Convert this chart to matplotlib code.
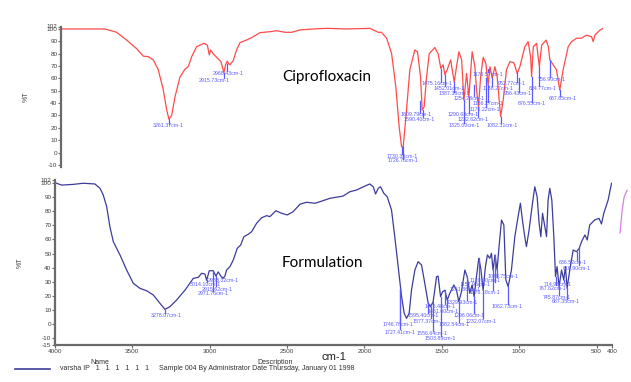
import matplotlib
matplotlib.use("Agg")
import matplotlib.pyplot as plt
from matplotlib.lines import Line2D

# spectrum 1 : Ciprofloxacin (red)
cipro_w = [4000, 3708, 3630, 3564, 3497, 3453, 3420, 3387, 3354, 3321, 3298, 3283, 3265, 3243, 3210,
           3177, 3155, 3132, 3099, 3050, 3028, 3015, 3006, 2989, 2966, 2938, 2918, 2907, 2896, 2887,
           2878, 2856, 2834, 2811, 2778, 2734, 2679, 2612, 2568, 2513, 2468, 2413, 2325, 2236, 2103,
           1948, 1893, 1871, 1837, 1804, 1776, 1754, 1738, 1727, 1705, 1683, 1650, 1632, 1612, 1601,
           1588, 1572, 1554, 1517, 1495, 1477, 1462, 1450, 1435, 1412, 1388, 1373, 1357, 1339, 1324,
           1306, 1291, 1269, 1251, 1240, 1227, 1213, 1196, 1178, 1163, 1151, 1136, 1118, 1103, 1080,
           1063, 1041, 1018, 992, 970, 952, 919, 897, 881, 874, 863, 841, 823, 807, 778,
           763, 753, 731, 709, 687, 665, 631, 609, 576, 543, 510, 476, 465, 454, 421, 400]
cipro_T = [100, 100, 97.3, 91, 84, 78, 77.6, 75, 67, 51, 34.5, 27, 30, 45, 61,
           67.4, 69.5, 77.6, 85.7, 88.4, 87, 79, 83, 80, 77, 73.6, 64.7, 71, 74, 72,
           71, 74.4, 83, 89, 90.5, 93, 97, 97.8, 98.6, 97.3, 97.3, 99.2, 100, 100.5, 100,
           100.5, 97.3, 97.3, 92.5, 80, 53, 21, 4.8, 4.8, 34.5, 67, 83, 81.6, 61.4, 34.5,
           37, 61, 80, 85, 80, 68, 71, 63, 67, 75, 57, 69.5, 81.6, 75, 42.5,
           64, 45, 81.6, 69.5, 50.6, 37, 61, 77, 72, 54.7, 69.5, 60, 69.5, 61.4, 29,
           42.5, 67, 73.6, 72.7, 64, 69.5, 85.7, 89.7, 77.6, 61.4, 85.7, 88.4, 69.5, 87, 91,
           85.7, 75, 71, 67, 50.6, 67, 85.7, 89.7, 92.5, 92.5, 95, 93.8, 89.7, 95, 99, 100.5]

# spectrum 2 : Formulation (navy)
form_w = [4000, 3957, 3882, 3817, 3742, 3709, 3688, 3666, 3645, 3623, 3580, 3537, 3494, 3451, 3408,
          3365, 3322, 3289, 3257, 3214, 3160, 3106, 3074, 3052, 3031, 3020, 3003, 2977, 2960, 2945,
          2928, 2913, 2902, 2891, 2869, 2848, 2822, 2800, 2779, 2751, 2729, 2697, 2665, 2632, 2611,
          2572, 2536, 2499, 2461, 2417, 2374, 2320, 2288, 2223, 2138, 2094, 2051, 1997, 1965, 1943,
          1928, 1911, 1896, 1875, 1853, 1825, 1804, 1782, 1760, 1743, 1728, 1711, 1696, 1674, 1653,
          1631, 1610, 1588, 1573, 1556, 1534, 1524, 1508, 1495, 1480, 1465, 1448, 1422, 1405, 1390,
          1373, 1351, 1336, 1319, 1304, 1291, 1276, 1261, 1248, 1233, 1218, 1205, 1190, 1179, 1169,
          1156, 1143, 1130, 1114, 1099, 1086, 1071, 1050, 1028, 1007, 992, 979, 964, 953, 936,
          914, 899, 884, 871, 860, 849, 834, 823, 813, 802, 789, 776, 765, 755, 742,
          726, 712, 701, 690, 673, 651, 629, 612, 597, 575, 560, 544, 512, 484, 468,
          453, 425, 403]
form_T = [100.3, 98.6, 99.1, 99.9, 99.4, 96.3, 91.5, 83.3, 69, 58.4, 49, 38.3, 28.9, 25.3, 23.6,
          20.6, 14.7, 10.4, 12.3, 17, 24, 32.4, 33.1, 36, 35.5, 31, 37.8, 37.8, 34, 37,
          34, 32.4, 34, 38.3, 40.7, 45.4, 53.7, 56, 62, 63.7, 65.5, 71.5, 75.4, 76.9, 76.2,
          80.4, 78.6, 77.4, 79.7, 85, 86.4, 85.7, 86.8, 89.2, 90.8, 93.9, 95.1, 97.9, 99.4, 97.4,
          92.3, 96.3, 97.4, 92.8, 90.4, 80.9, 62, 40.7, 19.4, 7.6, 4, 7.6, 24, 38.3, 44.2,
          41.9, 28.9, 14.7, 12.3, 15.8, 33.6, 34, 19.4, 22.9, 24, 17, 21.8, 27.7, 24, 15.8,
          22.9, 38.3, 33.6, 21.8, 27.7, 19.4, 33.6, 46.6, 39.5, 24, 40.7, 49, 46.6, 50.2, 38.3,
          49, 38.3, 54.9, 73.8, 70.3, 31.2, 26.5, 38.3, 62, 76.2, 85.7, 73.8, 62, 54.9, 66.7,
          85.7, 97.4, 90.4, 71.5, 62, 78.6, 69, 62, 88, 96.3, 88, 62, 33.6, 40.7, 26.5,
          38.3, 31.2, 40.7, 25.3, 38.3, 52.5, 51.3, 53.7, 58.4, 63.2, 59.6, 70.3, 73.8, 75, 71,
          78.6, 88, 99.9]

# stray third trace past the right end of the axis
extra_w = [348, 335, 322, 302]
extra_T = [64.6, 80, 90, 95]

# peak labels: text, peak w, peak T, text w, text T
cipro_peaks = [
    ("3261.37cm-1", 3283, 27, 3290, 21.5),
    ("2968.43cm-1", 2896, 72, 2891, 63.6),
    ("2915.73cm-1", 2918, 64.7, 2984, 58),
    ("1730.38cm-1", 1738, 4.8, 1736, -2.8),
    ("1726.76cm-1", 1727, 4.8, 1729, -6.8),
    ("1609.79cm-1", 1615, 42, 1643, 30.4),
    ("1590.40cm-1", 1598, 34.5, 1623, 26.4),
    ("1475.16cm-1", 1477, 68, 1503, 55.5),
    ("1452.01cm-1", 1450, 63, 1424, 51.5),
    ("1387.38cm-1", 1388, 57, 1391, 47.4),
    ("1325.00cm-1", 1324, 42.5, 1324, 22.3),
    ("1290.63cm-1", 1291, 45, 1331, 30.4),
    ("1254.28cm-1", 1258, 55, 1291, 43.4),
    ("1232.62cm-1", 1227, 37, 1264, 26.4),
    ("1176.57cm-1", 1163, 68, 1165, 62.8),
    ("1156.27cm-1", 1163, 54.7, 1165, 39.3),
    ("1176.22cm-1", 1180, 60, 1185, 34.5),
    ("1138.27cm-1", 1136, 60, 1098, 51.5),
    ("1082.31cm-1", 1080, 29, 1072, 22.3),
    ("952.77cm-1", 970, 64, 1005, 55.5),
    ("956.43cm-1", 960, 60, 965, 47.4),
    ("876.55cm-1", 874, 61.4, 872, 39.3),
    ("824.77cm-1", 823, 69.5, 800, 51.5),
    ("756.90cm-1", 753, 75, 740, 59.5),
    ("687.65cm-1", 687, 50.6, 667, 43.4),
]
form_peaks = [
    ("3278.07cm-1", 3289, 10.4, 3283, 5.7),
    ("2983.32cm-1", 2928, 34, 2915, 31.2),
    ("3014.10cm-1", 3020, 31, 3025, 27.7),
    ("2915.62cm-1", 2960, 34, 2953, 24.8),
    ("2971.76cm-1", 2977, 37, 2979, 21.3),
    ("1746.78cm-1", 1771, 25, 1784, -0.7),
    ("1727.41cm-1", 1771, 25, 1771, -5.7),
    ("1595.40cm-1", 1588, 14.7, 1623, 5.7),
    ("1577.37cm-1", 1573, 12.3, 1590, 2.1),
    ("1556.64cm-1", 1556, 15.8, 1565, -7.1),
    ("1503.89cm-1", 1508, 19.4, 1513, -10.6),
    ("1476.48cm-1", 1480, 24, 1513, 12.1),
    ("1451.60cm-1", 1465, 17, 1494, 8.5),
    ("1382.54cm-1", 1390, 15.8, 1422, -0.7),
    ("1329.93cm-1", 1336, 33.6, 1371, 14.9),
    ("1296.06cm-1", 1291, 19.4, 1326, 5.7),
    ("1261.86cm-1", 1261, 46.6, 1351, 24.8),
    ("1232.07cm-1", 1233, 24, 1248, 2.1),
    ("1157.95cm-1", 1156, 49, 1287, 27.7),
    ("1129.00cm-1", 1143, 38.3, 1222, 31.2),
    ("1176.18cm-1", 1169, 38.3, 1222, 22),
    ("1048.75cm-1", 1071, 26.5, 1106, 34),
    ("1062.73cm-1", 1071, 26.5, 1080, 12.1),
    ("767.62cm-1", 765, 33.6, 783, 25.5),
    ("714.98cm-1", 712, 31.2, 751, 27.7),
    ("745.87cm-1", 742, 26.5, 757, 18.5),
    ("687.35cm-1", 690, 25.3, 699, 15.6),
    ("636.52cm-1", 629, 51.3, 654, 43.3),
    ("616.90cm-1", 612, 53.7, 628, 39.7),
]

top_yticks = [-10, 0, 10, 20, 30, 40, 50, 60, 70, 80, 90, 100, 102]
bot_yticks = [-15, -10, 0, 10, 20, 30, 40, 50, 60, 70, 80, 90, 100, 102]
xticks = [4000, 3500, 3000, 2500, 2000, 1500, 1000, 500, 400]

plt.rcParams['font.family'] = ['Liberation Sans', 'DejaVu Sans']

W, H = 631, 382
fig = plt.figure(figsize=(W / 100, H / 100), dpi=100)
fig.patch.set_facecolor('white')

ax1 = fig.add_axes([61 / W, 1 - 167.4 / H, (603 - 61) / W, (167.4 - 26.5) / H])
ax2 = fig.add_axes([55 / W, 1 - 345.1 / H, (612 - 55) / W, (345.1 - 180.3) / H])

RED = '#ff4a4a'
NAVY = '#3c3c9c'
LBL = '#5a5aff'
AX = '#6a6a6a'


def style(ax, yticks, ylim):
    ax.set_ylim(*ylim)
    ax.set_xlim(4000, 400)
    ax.set_yticks(yticks)
    ax.set_yticklabels([str(t) for t in yticks])
    for s in ['top', 'right']:
        ax.spines[s].set_visible(False)
    ax.spines['left'].set_color(AX)
    ax.spines['left'].set_linewidth(1.6)
    ax.tick_params(axis='y', length=2, width=0.8, color=AX, labelsize=4.6,
                   labelcolor='#404040', pad=0.5)
    ax.set_facecolor('none')


def peaks(ax, items):
    for txt, pw, pt, tw, tt in items:
        if pt > tt + 2:
            ax.plot([pw, pw], [pt, tt + 2], color=LBL, lw=0.9)
        ax.text(tw, tt, txt, fontsize=3.8, color=LBL, ha='center', va='center')


style(ax1, top_yticks, (-12, 102))
ax1.spines['bottom'].set_visible(False)
ax1.set_xticks([])
ax1.plot(cipro_w, cipro_T, color=RED, lw=0.9)
peaks(ax1, cipro_peaks)
ax1.set_ylabel('%T', fontsize=5, color='#404040', labelpad=12)

style(ax2, bot_yticks, (-15, 102))
ax2.spines['bottom'].set_color(AX)
ax2.spines['bottom'].set_linewidth(1.6)
ax2.set_xticks(xticks)
ax2.set_xticklabels([str(t) for t in xticks])
ax2.tick_params(axis='x', length=2, width=0.8, color=AX, labelsize=4.6,
                labelcolor='#404040', pad=0.5)
ax2.plot(form_w, form_T, color=NAVY, lw=0.9)
ax2.plot(extra_w, extra_T, color='#d880e0', lw=0.9, clip_on=False)
peaks(ax2, form_peaks)
ax2.set_ylabel('%T', fontsize=5, color='#404040', labelpad=12)
ax2.set_xlabel('cm-1', fontsize=8, color='#202020', labelpad=-1)

fig.text(282 / W, 1 - 77 / H, 'Ciprofloxacin', fontsize=11, family='Lato',
         ha='left', va='center', color='black')
fig.text(282 / W, 1 - 263 / H, 'Formulation', fontsize=11, family='Lato',
         ha='left', va='center', color='black')

fig.text(100 / W, 1 - 362 / H, 'Name', fontsize=5, color='#303030', ha='center', va='center')
fig.text(275 / W, 1 - 362 / H, 'Description', fontsize=5, color='#303030', ha='center', va='center')
fig.add_artist(Line2D([15 / W, 50 / W], [1 - 369 / H, 1 - 369 / H], color=NAVY, lw=1.2))
fig.text(60 / W, 1 - 369 / H,
         'varsha IP   1   1   1   1   1   1     Sample 004 By Administrator Date Thursday, January 01 1998',
         fontsize=5, color='#303030', ha='left', va='center')

fig.savefig('out.png', dpi=100)
